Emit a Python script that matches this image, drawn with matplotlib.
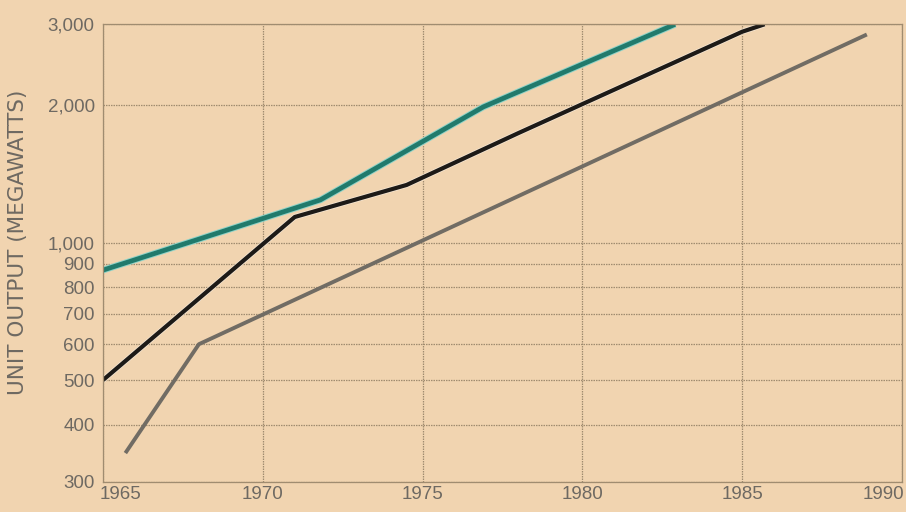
import matplotlib.pyplot as plt
import matplotlib.patheffects as pe
import matplotlib.transforms as mtransforms
from matplotlib.ticker import FixedLocator, NullLocator

# values (year, unit output in megawatts)
teal_years = [1965, 1971.8, 1976.9, 1982.9]
teal_mw = [871, 1240, 1980, 3000]

black_years = [1965, 1971.0, 1974.5, 1978.0, 1985.0, 1985.7]
black_mw = [501, 1138, 1337, 1736, 2890, 3000]

gray_years = [1965.7, 1968.0, 1988.9]
gray_mw = [347, 600, 2850]

x_ticks = [1965, 1970, 1975, 1980, 1985, 1990]
y_ticks = [300, 400, 500, 600, 700, 800, 900, 1000, 2000, 3000]
y_labels = ['300', '400', '500', '600', '700', '800', '900', '1,000', '2,000', '3,000']

bg = '#f1d4b0'
grid_col = '#a08c70'
text_col = '#6e6962'

plt.rcParams['font.family'] = ['Liberation Sans', 'DejaVu Sans']

fig = plt.figure(figsize=(9.06, 5.12), dpi=100, facecolor=bg)
ax = fig.add_axes([103 / 906, 30 / 512, 799 / 906, 457.7 / 512])
ax.set_facecolor(bg)

ax.set_yscale('log')
ax.set_xlim(1965, 1990)
ax.set_ylim(300, 3000)

ax.yaxis.set_major_locator(FixedLocator(y_ticks))
ax.yaxis.set_minor_locator(NullLocator())
ax.set_yticklabels(y_labels)
ax.set_xticks(x_ticks)
ax.set_xticklabels([str(y) for y in x_ticks])

ax.grid(True, color=grid_col, linestyle=(0, (1.2, 0.8)), linewidth=0.9)
for s in ax.spines.values():
    s.set_color(grid_col)
    s.set_linestyle((0, (1.2, 0.8)))
    s.set_linewidth(0.9)

ax.tick_params(length=0, labelsize=13.5, labelcolor=text_col)
ax.tick_params(axis='x', pad=3)
ax.tick_params(axis='y', pad=6)

# end labels on the x axis sit inward, like in the print
labs = ax.get_xticklabels()
labs[0].set_horizontalalignment('left')
labs[0].set_transform(labs[0].get_transform() +
                      mtransforms.ScaledTranslation(-3 / 100, 0, fig.dpi_scale_trans))
labs[-1].set_horizontalalignment('right')
labs[-1].set_transform(labs[-1].get_transform() +
                       mtransforms.ScaledTranslation(2 / 100, 0, fig.dpi_scale_trans))

ax.plot(gray_years, gray_mw, color='#716c64', lw=2.8, solid_capstyle='butt')
ax.plot(black_years, black_mw, color='#1d1a17', lw=3.0, solid_capstyle='butt',
        path_effects=[pe.Stroke(linewidth=4.0, foreground='#f6e8d6'), pe.Normal()])
ax.plot(teal_years, teal_mw, color='#217a6c', lw=3.4, solid_capstyle='butt',
        path_effects=[pe.Stroke(linewidth=4.8, foreground='#8fd3c8'), pe.Normal()])

fig.text(18 / 906, 1 - 242 / 512, 'UNIT OUTPUT (MEGAWATTS)', rotation=90,
         ha='center', va='center', fontsize=15.5, color=text_col,
         family=['DejaVu Sans'])

fig.savefig('out.png', dpi=100, facecolor=bg)
